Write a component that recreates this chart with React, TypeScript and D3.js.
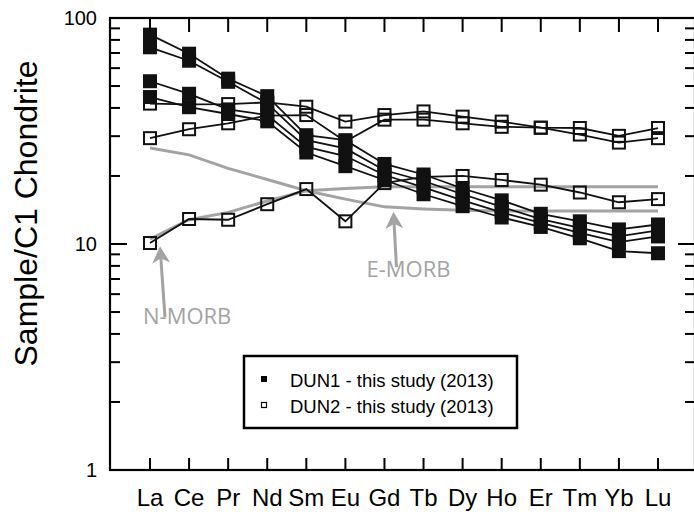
import React, { useEffect } from 'react';
import * as d3 from 'd3';

const elements = ['La', 'Ce', 'Pr', 'Nd', 'Sm', 'Eu', 'Gd', 'Tb', 'Dy', 'Ho', 'Er', 'Tm', 'Yb', 'Lu'];

// DUN1 samples (filled squares)
const dun1a = [84.4, 69.5, 53.9, 45.1, 30.3, 28.8, 22.6, 20.3, 17.6, 15.6, 13.6, 12.6, 11.6, 12.2];
const dun1b = [74.2, 64.7, 52.2, 41.9, 28.8, 26.5, 21.2, 19.0, 16.6, 14.6, 12.9, 11.8, 10.8, 11.5];
const dun1c = [52.5, 46.2, 39.4, 37.2, 26.9, 24.5, 20.2, 17.8, 15.6, 13.8, 12.4, 11.2, 10.2, 10.8];
const dun1d = [44.7, 40.3, 37.6, 34.9, 25.4, 22.1, 19.2, 16.6, 14.7, 13.1, 11.9, 10.6, 9.3, 9.1];

// DUN2 samples (open squares)
const dun2a = [41.8, 41.5, 41.6, 42.3, 40.5, 34.8, 37.2, 38.6, 36.6, 34.8, 32.7, 32.6, 30.1, 32.6];
const dun2b = [29.4, 32.2, 34.2, 37.0, 37.2, 28.4, 35.5, 35.5, 34.2, 33.0, 32.7, 30.5, 28.1, 29.4];
const dun2c = [10.1, 12.9, 12.8, 15.0, 17.5, 12.6, 18.6, 19.8, 20.0, 19.2, 18.3, 16.9, 15.3, 15.8];

// Reference patterns
const nMorb = [10.5, 12.8, 13.8, 15.5, 17.2, 17.6, 17.9, 17.9, 17.9, 17.9, 17.9, 17.9, 17.9, 17.9];
const eMorb = [26.6, 24.8, 21.6, 19.3, 17.2, 15.8, 14.6, 14.3, 14.1, 14.0, 14.0, 14.0, 14.0, 14.0];

const yTickLabels = [1, 10, 100];
const yMinorTicks = [2, 3, 4, 5, 6, 7, 8, 9, 20, 30, 40, 50, 60, 70, 80, 90];

const legendLabels = ['DUN1 - this study (2013)', 'DUN2 - this study (2013)'];

const W = 694;
const H = 512;
const left = 110;
const right = 695;
const top = 18;
const bottom = 470;

export default function App() {
  useEffect(() => {
    document.body.style.margin = '0';
  }, []);

  const x = d3.scalePoint<string>().domain(elements).range([150, 658]);
  const y = d3.scaleLog().domain([1, 100]).range([bottom, top]);
  const line = d3
    .line<number>()
    .x((_, i) => x(elements[i]) as number)
    .y((d) => y(d));

  const dun1 = [dun1a, dun1b, dun1c, dun1d];
  const dun2 = [dun2a, dun2b, dun2c];
  const gray = '#a3a3a3';
  const sq = 12;
  const font = '"Liberation Sans", Arial, Helvetica, sans-serif';
  const morbFont = '"Open Sans", "Noto Sans", sans-serif';

  const arrow = (tx: number, ty: number, sx: number, sy: number, key: string) => {
    const ang = Math.atan2(ty - sy, tx - sx);
    const hl = 17;
    const hw = 9;
    const bx = tx - hl * Math.cos(ang);
    const by = ty - hl * Math.sin(ang);
    const nx = -Math.sin(ang);
    const ny = Math.cos(ang);
    const notch = 5;
    const mx = tx - (hl - notch) * Math.cos(ang);
    const my = ty - (hl - notch) * Math.sin(ang);
    return (
      <g key={key}>
        <line x1={sx} y1={sy} x2={mx} y2={my} stroke={gray} strokeWidth={3} />
        <path
          d={`M${tx},${ty} L${bx + nx * hw},${by + ny * hw} L${mx},${my} L${bx - nx * hw},${by - ny * hw} Z`}
          fill={gray}
        />
      </g>
    );
  };

  const xLa = x('La') as number;
  const xGd = x('Gd') as number;

  return (
    <svg width={W} height={H} style={{ display: 'block' }} fontFamily={font}>
      <rect x={0} y={0} width={W} height={H} fill="#fff" />

      {/* reference lines */}
      <path d={line(nMorb) || ''} fill="none" stroke={gray} strokeWidth={3} />
      <path d={line(eMorb) || ''} fill="none" stroke={gray} strokeWidth={3} />

      {/* DUN2 */}
      {dun2.map((s, k) => (
        <path key={'l2' + k} d={line(s) || ''} fill="none" stroke="#111" strokeWidth={1.8} />
      ))}
      {dun2.map((s, k) =>
        s.map((v, i) => (
          <rect
            key={'o' + k + '-' + i}
            x={(x(elements[i]) as number) - sq / 2}
            y={y(v) - sq / 2}
            width={sq}
            height={sq}
            fill="none"
            stroke="#111"
            strokeWidth={2}
          />
        ))
      )}

      {/* DUN1 */}
      {dun1.map((s, k) => (
        <path key={'l1' + k} d={line(s) || ''} fill="none" stroke="#111" strokeWidth={1.8} />
      ))}
      {dun1.map((s, k) =>
        s.map((v, i) => (
          <rect
            key={'f' + k + '-' + i}
            x={(x(elements[i]) as number) - sq / 2}
            y={y(v) - sq / 2}
            width={sq}
            height={sq}
            fill="#111"
            stroke="#111"
            strokeWidth={2}
          />
        ))
      )}

      {/* annotations */}
      {arrow(xLa + 10, y(nMorb[0]) + 7, xLa + 15, y(4.75), 'an')}
      <text x={xLa - 7} y={y(4.43)} fill={gray} fontFamily={morbFont} fontSize={22}>
        N-MORB
      </text>
      {arrow(xGd + 9, y(eMorb[6]) + 5, xGd + 12, y(7.9), 'ae')}
      <text x={xGd - 18} y={y(7.14)} fill={gray} fontFamily={morbFont} fontSize={22}>
        E-MORB
      </text>

      {/* frame */}
      <rect x={left} y={top} width={right - left} height={bottom - top} fill="none" stroke="#000" strokeWidth={2.2} />

      {/* y ticks */}
      {yMinorTicks.map((t) => (
        <g key={'ym' + t}>
          <line x1={left} x2={left + 10} y1={y(t)} y2={y(t)} stroke="#000" strokeWidth={2} />
          <line x1={right} x2={right - 10} y1={y(t)} y2={y(t)} stroke="#000" strokeWidth={2} />
        </g>
      ))}
      <line x1={left} x2={left + 17} y1={y(10)} y2={y(10)} stroke="#000" strokeWidth={2} />
      <line x1={right} x2={right - 17} y1={y(10)} y2={y(10)} stroke="#000" strokeWidth={2} />
      {yTickLabels.map((t) => (
        <text key={'yl' + t} x={left - 13} y={y(t) + 7} textAnchor="end" fontSize={20} fill="#000">
          {t}
        </text>
      ))}

      {/* x ticks */}
      {elements.map((e) => (
        <g key={'xt' + e}>
          <line x1={x(e)} x2={x(e)} y1={top} y2={top + 14} stroke="#000" strokeWidth={2} />
          <line x1={x(e)} x2={x(e)} y1={bottom} y2={bottom - 12} stroke="#000" strokeWidth={2} />
          <text x={x(e)} y={bottom + 36} textAnchor="middle" fontSize={24} fill="#000">
            {e}
          </text>
        </g>
      ))}

      {/* y title */}
      <text transform="translate(37,213.5) rotate(-90)" textAnchor="middle" fontSize={32} fill="#000">
        Sample/C1 Chondrite
      </text>

      {/* legend */}
      <rect x={244} y={356} width={273} height={72} fill="#fff" stroke="#000" strokeWidth={2.5} />
      <rect x={261} y={376} width={6} height={6} fill="#000" />
      <rect x={261.5} y={402.5} width={5} height={5} fill="none" stroke="#000" strokeWidth={1.2} />
      <text x={290} y={387} fontSize={18.5} fill="#000">
        {legendLabels[0]}
      </text>
      <text x={290} y={413} fontSize={18.5} fill="#000">
        {legendLabels[1]}
      </text>
    </svg>
  );
}
